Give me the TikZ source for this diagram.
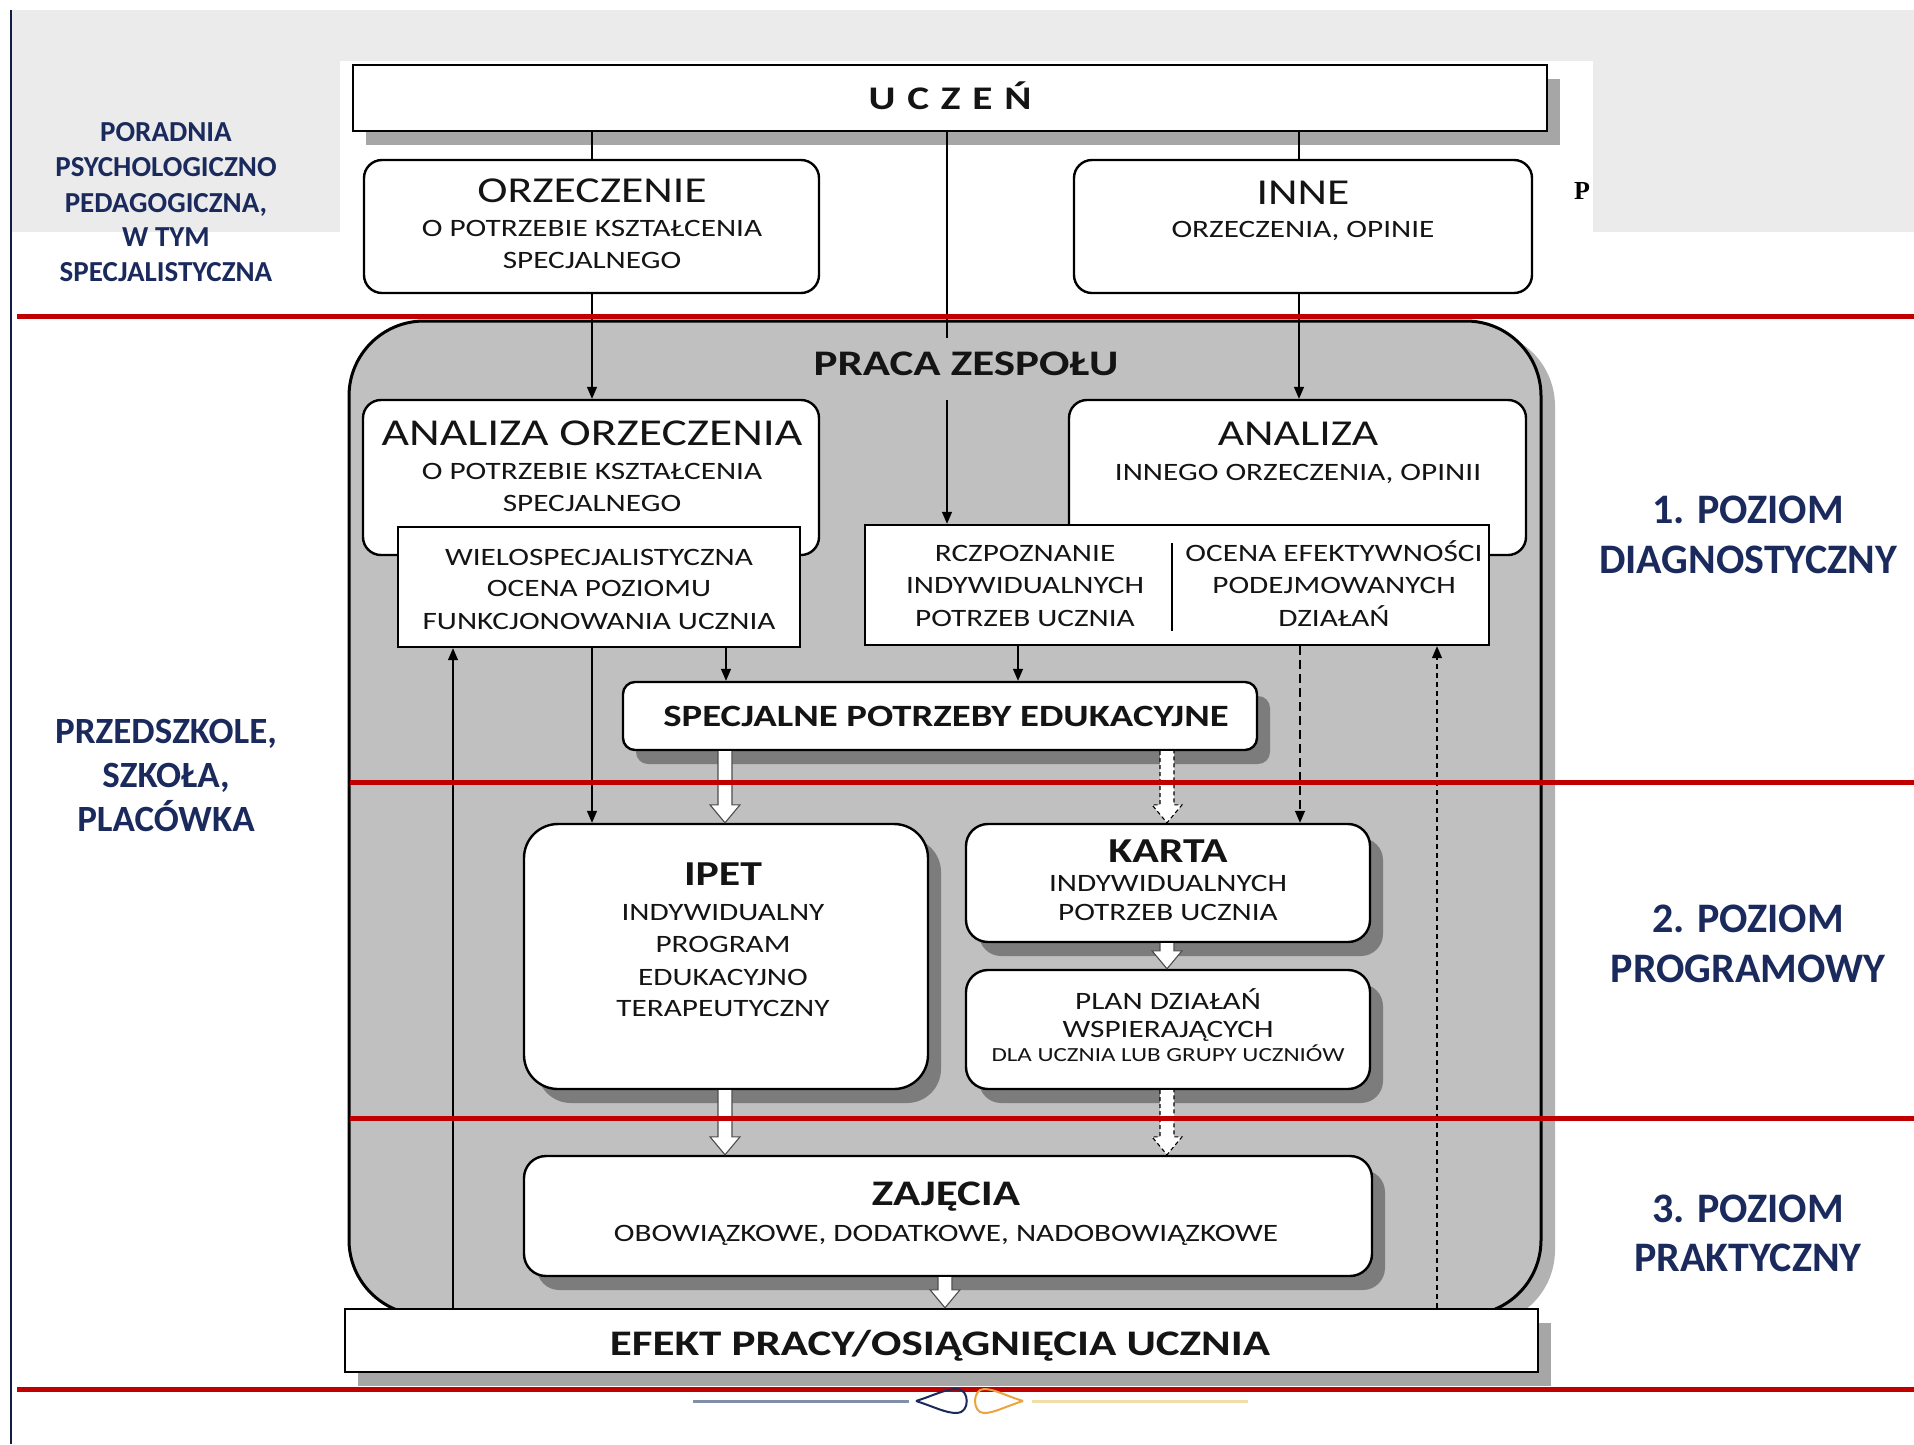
\documentclass[tikz,border=0pt]{standalone}
\usepackage{fontspec}
\setmainfont{Carlito}
\newfontfamily\wmfont{Liberation Serif}
\usetikzlibrary{arrows.meta,shadows,calc}
\definecolor{navy}{HTML}{1B2A5C}
\definecolor{redl}{HTML}{C00000}
\definecolor{pgray}{HTML}{C0C0C0}
\definecolor{band}{HTML}{EBEBEB}
\newcommand\sx[1]{\scalebox{1.25}[1]{#1}}
\newcommand\harr[3][]{\filldraw[harrow,#1] let \p1=(#2), \p2=(#3) in
  (\x1-7pt,\y1) -- (\x1-7pt,\y2+18pt) -- (\x1-15pt,\y2+18pt) -- (\x1,\y2) --
  (\x1+15pt,\y2+18pt) -- (\x1+7pt,\y2+18pt) -- (\x1+7pt,\y1);}
\begin{document}
\begin{tikzpicture}[x=1pt,y=-1pt,
 box/.style={draw=black,line width=2.4pt,fill=white,rounded corners=18pt,inner sep=0pt},
 sqbox/.style={draw=black,line width=2.4pt,fill=white,inner sep=0pt},
 shad/.style={drop shadow={shadow xshift=13pt,shadow yshift=-14pt,fill=black,opacity=.35}},
 conn/.style={line width=1.3pt,draw=black},
 arr/.style={conn,-{Triangle[length=12pt,width=10pt]}},
 dsh/.style={dash pattern=on 9pt off 5pt},
 dtt/.style={dash pattern=on 5pt off 4pt},
 harrow/.style={fill=white,draw=black!70,line width=1.1pt},
 hdash/.style={draw=black,dash pattern=on 4pt off 3pt},
 tx/.style={inner sep=0pt,anchor=base,text=black!92},
 r25/.style={tx,font=\fontsize{25}{30}\selectfont},
 r20/.style={tx,font=\fontsize{20}{24}\selectfont},
 r36/.style={tx,font=\fontsize{36.5}{44}\selectfont},
 r38/.style={tx,font=\fontsize{38}{46}\selectfont},
 b31/.style={tx,font=\bfseries\fontsize{31}{37}\selectfont},
 b35/.style={tx,font=\bfseries\fontsize{35}{42}\selectfont},
 b36/.style={tx,font=\bfseries\fontsize{36}{43}\selectfont},
 lab/.style={inner sep=0pt,anchor=base,text=navy},
 l29/.style={lab,font=\bfseries\fontsize{29}{35}\selectfont},
 l37/.style={lab,font=\bfseries\fontsize{37}{44}\selectfont},
 l42/.style={lab,font=\bfseries\fontsize{42}{50}\selectfont},
 redline/.style={draw=redl,line width=5pt},
]
\useasboundingbox (0,0) rectangle (1914,1444);
\fill[white] (0,0) rectangle (1914,1444);
% light background band
\fill[band] (11,10) rectangle (1914,232);
\fill[white] (340,61) rectangle (1593,232);
\draw[line width=2pt,draw=navy!70!black] (11,10) -- (11,1444);

% big gray team box
\node[draw=black,line width=3pt,fill=pgray,rounded corners=75pt,minimum width=1192pt,minimum height=994pt,inner sep=0pt,
  drop shadow={shadow xshift=14pt,shadow yshift=-10pt,fill=black,opacity=.3}] (praca) at (945,818) {};

% boxes
\node[sqbox,shad,minimum width=1194pt,minimum height=66pt] (ucz) at (950,98) {};
\node[box,minimum width=455pt,minimum height=133pt] (orz) at (591.5,226.5) {};
\node[box,minimum width=458pt,minimum height=133pt] (inne) at (1303,226.5) {};
\node[box,minimum width=456pt,minimum height=155pt] (ano) at (591,477.5) {};
\node[box,minimum width=457pt,minimum height=155pt] (ani) at (1297.5,477.5) {};
\node[sqbox,minimum width=402pt,minimum height=120pt] (wie) at (599,587) {};
\node[sqbox,minimum width=624pt,minimum height=120pt] (roz) at (1177,585) {};
\draw[line width=1.5pt] (1172,543) -- (1172,631);
\node[box,shad,rounded corners=12pt,minimum width=634pt,minimum height=68pt] (spe) at (940,716) {};
\node[box,shad,rounded corners=34pt,minimum width=404pt,minimum height=265pt] (ipet) at (726,956.5) {};
\node[box,shad,rounded corners=22pt,minimum width=404pt,minimum height=118pt] (karta) at (1168,883) {};
\node[box,shad,rounded corners=22pt,minimum width=404pt,minimum height=119pt] (plan) at (1168,1029.5) {};
\node[box,shad,rounded corners=22pt,minimum width=848pt,minimum height=120pt] (zaj) at (948,1216) {};
\node[sqbox,shad,minimum width=1193pt,minimum height=63pt] (efekt) at (941.5,1340.5) {};

% helper coordinates for connector positions
\coordinate (xa) at (592,0);
\coordinate (xb) at (1299,0);
\coordinate (c1) at (947,338);
\coordinate (c2) at (947,400);
\coordinate (xd) at (726,0);
\coordinate (xe) at (1018,0);
\coordinate (xf) at (1300,0);
\coordinate (xg) at (453,0);
\coordinate (xh) at (1437,0);
\coordinate (xi) at (725,0);
\coordinate (xj) at (1167,0);
\coordinate (xk) at (945,0);

% connectors
\draw[conn] (ucz.south -| xa) -- (orz.north -| xa);
\draw[arr] (orz.south -| xa) -- (ano.north -| xa);
\draw[conn] (ucz.south -| xb) -- (inne.north -| xb);
\draw[arr] (inne.south -| xb) -- (ani.north -| xb);
\draw[conn] (ucz.south -| c1) -- (c1);
\draw[arr] (c2) -- (roz.north -| c2);
\draw[arr] (wie.south -| xa) -- (ipet.north -| xa);
\draw[arr] (wie.south -| xd) -- (spe.north -| xd);
\draw[arr] (roz.south -| xe) -- (spe.north -| xe);
\draw[arr,dsh] (roz.south -| xf) -- (karta.north -| xf);
\draw[arr] (efekt.north -| xg) -- (wie.south -| xg);
\draw[arr,dtt] (efekt.north -| xh) -- (roz.south -| xh);
\harr{spe.south -| xi}{ipet.north -| xi}
\harr[hdash]{spe.south -| xj}{karta.north -| xj}
\harr{karta.south -| xj}{plan.north -| xj}
\harr{ipet.south -| xi}{zaj.north -| xi}
\harr[hdash]{plan.south -| xj}{zaj.north -| xj}
\harr{zaj.south -| xk}{efekt.north -| xk}

% texts
\node[tx,font=\bfseries\fontsize{33}{40}\selectfont\addfontfeature{LetterSpace=6}] (t0) at (950,109) {\sx{U C Z E Ń}};
\node[r36] (t1) at (592,202) {\sx{ORZECZENIE}};
\node[r25] (t2) at (592,236) {\sx{O POTRZEBIE KSZTAŁCENIA}};
\node[r25] (t3) at (592,268) {\sx{SPECJALNEGO}};
\node[r36] (t4) at (1303,204) {\sx{INNE}};
\node[r25] (t5) at (1303,237) {\sx{ORZECZENIA, OPINIE}};
\node[b36] (t6) at (966,375) {\sx{PRACA ZESPOŁU}};
\node[r38] (t7) at (592,445) {\sx{ANALIZA ORZECZENIA}};
\node[r25] (t8) at (592,479) {\sx{O POTRZEBIE KSZTAŁCENIA}};
\node[r25] (t9) at (592,511) {\sx{SPECJALNEGO}};
\node[r25] (t10) at (599,565) {\sx{WIELOSPECJALISTYCZNA}};
\node[r25] (t11) at (599,596) {\sx{OCENA POZIOMU}};
\node[r25] (t12) at (599,629) {\sx{FUNKCJONOWANIA UCZNIA}};
\node[r36] (t13) at (1298,445) {\sx{ANALIZA}};
\node[r25] (t14) at (1298,480) {\sx{INNEGO ORZECZENIA, OPINII}};
\node[r25] (t15) at (1025,561) {\sx{RCZPOZNANIE}};
\node[r25] (t16) at (1025,593) {\sx{INDYWIDUALNYCH}};
\node[r25] (t17) at (1025,626) {\sx{POTRZEB UCZNIA}};
\node[r25] (t18) at (1334,561) {\sx{OCENA EFEKTYWNOŚCI}};
\node[r25] (t19) at (1334,593) {\sx{PODEJMOWANYCH}};
\node[r25] (t20) at (1334,626) {\sx{DZIAŁAŃ}};
\node[b31] (t21) at (946,726) {\sx{SPECJALNE POTRZEBY EDUKACYJNE}};
\node[b35] (t22) at (723,885) {\sx{IPET}};
\node[r25] (t23) at (723,920) {\sx{INDYWIDUALNY}};
\node[r25] (t24) at (723,952) {\sx{PROGRAM}};
\node[r25] (t25) at (723,985) {\sx{EDUKACYJNO}};
\node[r25] (t26) at (723,1016) {\sx{TERAPEUTYCZNY}};
\node[b35] (t27) at (1168,862) {\sx{KARTA}};
\node[r25] (t28) at (1168,891) {\sx{INDYWIDUALNYCH}};
\node[r25] (t29) at (1168,920) {\sx{POTRZEB UCZNIA}};
\node[r25] (t30) at (1168,1009) {\sx{PLAN DZIAŁAŃ}};
\node[r25] (t31) at (1168,1037) {\sx{WSPIERAJĄCYCH}};
\node[r20] (t32) at (1168,1061) {\sx{DLA UCZNIA LUB GRUPY UCZNIÓW}};
\node[b36] (t33) at (946,1205) {\sx{ZAJĘCIA}};
\node[r25] (t34) at (946,1241) {\sx{OBOWIĄZKOWE, DODATKOWE, NADOBOWIĄZKOWE}};
\node[b36] (t35) at (940,1355) {\sx{EFEKT PRACY/OSIĄGNIĘCIA UCZNIA}};

% side labels
\node[l29] (p1) at (166,141) {PORADNIA};
\node[l29] (p2) at (166,176) {PSYCHOLOGICZNO};
\node[l29] (p3) at (166,212) {PEDAGOGICZNA,};
\node[l29] (p4) at (166,246) {W TYM};
\node[l29] (p5) at (166,281) {SPECJALISTYCZNA};
\node[l37] (s1) at (166,743) {PRZEDSZKOLE,};
\node[l37] (s2) at (166,787) {SZKOŁA,};
\node[l37] (s3) at (166,831) {PLACÓWKA};
\node[l42] (q1) at (1748,523) {1. POZIOM};
\node[l42] (q2) at (1748,573) {DIAGNOSTYCZNY};
\node[l42] (q3) at (1748,932) {2. POZIOM};
\node[l42] (q4) at (1748,982) {PROGRAMOWY};
\node[l42] (q5) at (1748,1222) {3. POZIOM};
\node[l42] (q6) at (1748,1271) {PRAKTYCZNY};
\node[inner sep=0pt,anchor=base,font=\wmfont\bfseries\fontsize{26}{30}\selectfont] (pp) at (1582,199) {P};

% red level lines
\draw[redline] (17,316) -- (1914,316);
\draw[redline] (350,782) -- (1914,782);
\draw[redline] (350,1118) -- (1914,1118);
\draw[redline] (17,1389) -- (1914,1389);

% bottom logo
\draw[line width=3pt,draw={rgb,255:red,128;green,144;blue,168}] (693,1401) -- (909,1401);
\draw[line width=2pt,draw=navy] (916,1401) .. controls (935,1395) and (945,1389) .. (957,1389)
  .. controls (970,1389) and (970,1413) .. (957,1413) .. controls (945,1413) and (935,1407) .. (916,1401);
\draw[line width=2pt,draw={rgb,255:red,236;green,164;blue,60}] (1023,1401) .. controls (1004,1395) and (994,1389) .. (984,1389)
  .. controls (972,1389) and (972,1413) .. (984,1413) .. controls (994,1413) and (1004,1407) .. (1023,1401);
\draw[line width=3pt,draw={rgb,255:red,242;green,223;blue,168}] (1032,1401) -- (1248,1401);
\end{tikzpicture}
\end{document}
